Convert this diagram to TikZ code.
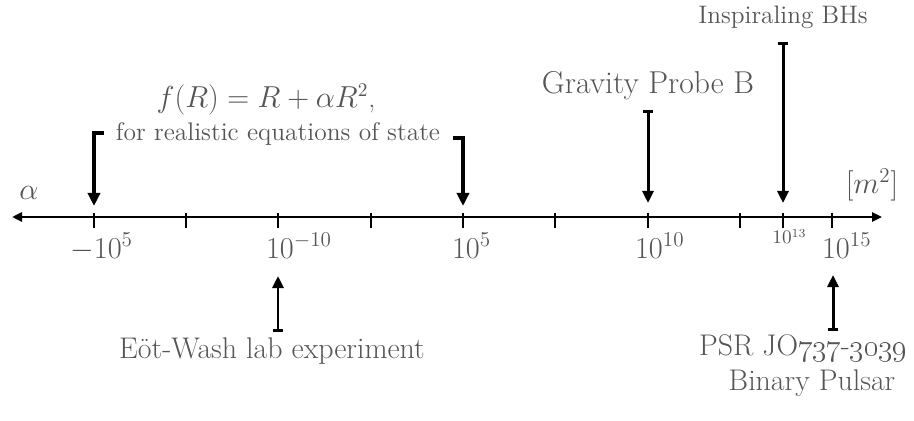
\documentclass[tikz,border=0pt]{standalone}
\usepackage{amsmath,amssymb,mathtools}
\usetikzlibrary{arrows.meta}
\definecolor{labelgray}{HTML}{555555}

\begin{document}
\begin{tikzpicture}[x=0.2mm,y=-0.2mm]
\tikzset{
  ticklabel/.style={text=labelgray,inner sep=0pt,anchor=base,font=\fontsize{16.5}{19}\selectfont},
  smalllabel/.style={text=labelgray,inner sep=0pt,anchor=base,font=\fontsize{10.5}{12}\selectfont},
  notelabel/.style={text=labelgray,inner sep=0pt,anchor=base,align=center,font=\fontsize{17}{20}\selectfont},
  axisline/.style={{Triangle[length=2mm,width=1.8mm]}-{Triangle[length=2mm,width=1.8mm]},line width=1.7pt},
  tickmark/.style={line width=1.3pt},
  bigarrow/.style={-{Triangle[length=2.6mm,width=2.4mm]},line width=2.3pt,line join=miter},
  probearrow/.style={{Bar[width=2mm]}-{Triangle[length=2.4mm,width=2.2mm]},line width=1.7pt}
}
\useasboundingbox (0,0) rectangle (914,421);
% axis and ticks
\coordinate (ax_l) at (12,217);
\coordinate (ax_r) at (882,217);
\draw[axisline] (ax_l) -- (ax_r);
\coordinate (k_m5) at (94,217);
\coordinate (k_a) at (186,217);
\coordinate (k_m10) at (278,217);
\coordinate (k_b) at (371,217);
\coordinate (k_5) at (463,217);
\coordinate (k_c) at (555,217);
\coordinate (k_10) at (648,217);
\coordinate (k_d) at (740,217);
\coordinate (k_13) at (783,217);
\coordinate (k_15) at (832,217);
\draw[tickmark] (k_m5) ++(0,-4) -- ++(0,15);
\draw[tickmark] (k_a) ++(0,-4) -- ++(0,15);
\draw[tickmark] (k_m10) ++(0,-4) -- ++(0,15);
\draw[tickmark] (k_b) ++(0,-4) -- ++(0,15);
\draw[tickmark] (k_5) ++(0,-4) -- ++(0,15);
\draw[tickmark] (k_c) ++(0,-4) -- ++(0,15);
\draw[tickmark] (k_10) ++(0,-4) -- ++(0,15);
\draw[tickmark] (k_d) ++(0,-4) -- ++(0,15);
\draw[tickmark] (k_13) ++(0,-4) -- ++(0,15);
\draw[tickmark] (k_15) ++(0,-4) -- ++(0,15);
\node[ticklabel] (lbl_m5) at (96,258) {$-10\mathrlap{^{5}}$};
\node[ticklabel] (lbl_m10) at (280,258) {$10\mathrlap{^{-10}}$};
\node[ticklabel] (lbl_5) at (466,258) {$10\mathrlap{^{5}}$};
\node[ticklabel] (lbl_10) at (649,258) {$10\mathrlap{^{10}}$};
\node[smalllabel] (lbl_13) at (782,244) {$10\mathrlap{^{13}}$};
\node[ticklabel] (lbl_15) at (836,258) {$10\mathrlap{^{15}}$};
\node[ticklabel] (lbl_alpha) at (29,200) {$\alpha$};
\node[ticklabel] (lbl_unit) at (872,194) {$[m^{2}]$};
% f(R) bounds
\node[notelabel,font=\fontsize{16}{19}\selectfont] (fr_eq) at (266,108) {$f(R)=R+\alpha R^{2}$,};
\node[notelabel,font=\fontsize{14.5}{17}\selectfont] (fr_eos) at (278,141) {for realistic equations of state};
\coordinate (fr_l_end) at (104,133);
\coordinate (fr_l_tip) at (94,206);
\coordinate (fr_r_end) at (453,138);
\coordinate (fr_r_tip) at (463,206);
\draw[bigarrow] (fr_l_end) -| (fr_l_tip);
\draw[bigarrow] (fr_r_end) -| (fr_r_tip);
% probes from above
\node[notelabel,font=\fontsize{18}{21}\selectfont] (gpb) at (648,94) {Gravity Probe B};
\coordinate (gpb_top) at (648,110);
\coordinate (gpb_tip) at (648,203);
\draw[probearrow] (gpb_top) -- (gpb_tip);
\node[notelabel,font=\fontsize{14.4}{17}\selectfont] (bhs) at (783,24) {Inspiraling BHs};
\coordinate (bhs_top) at (783,42);
\coordinate (bhs_tip) at (783,203);
\draw[probearrow] (bhs_top) -- (bhs_tip);
% probes from below
\node[notelabel] (eot) at (272,358) {Eöt-Wash lab experiment};
\coordinate (eot_bot) at (278,332);
\coordinate (eot_tip) at (278,276);
\draw[probearrow] (eot_bot) -- (eot_tip);
\node[notelabel] (psr) at (803,355) {PSR JO\oldstylenums{737}-\oldstylenums{3039}};
\node[notelabel] (psr_2) at (812,390) {Binary Pulsar};
\coordinate (psr_bot) at (833,331);
\coordinate (psr_tip) at (833,275);
\draw[probearrow] (psr_bot) -- (psr_tip);
\end{tikzpicture}
\end{document}
